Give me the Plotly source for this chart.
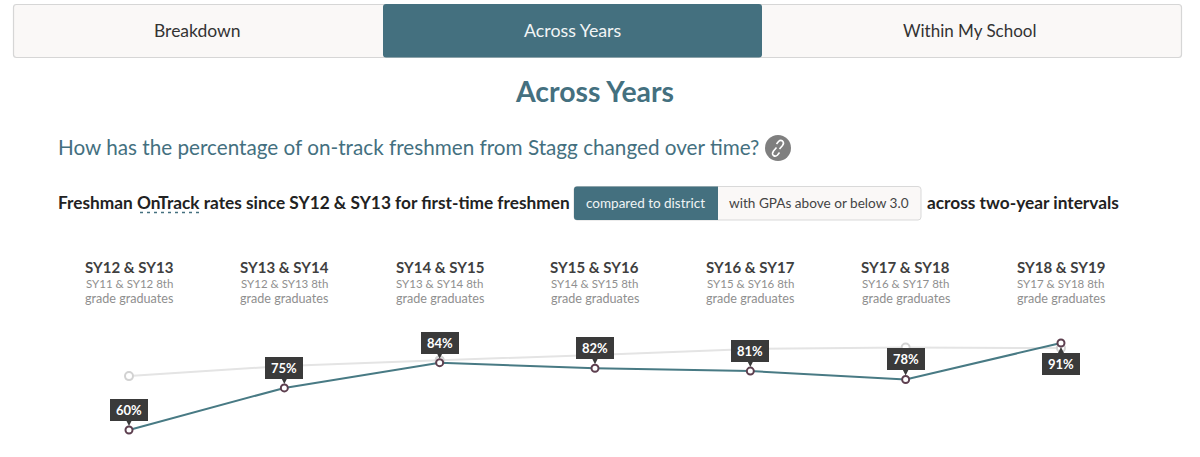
import plotly.graph_objects as go

# ---- data ----
periods = ["SY12 & SY13", "SY13 & SY14", "SY14 & SY15", "SY15 & SY16", "SY16 & SY17", "SY17 & SY18", "SY18 & SY19"]
cohorts = ["SY11 & SY12 8th", "SY12 & SY13 8th", "SY13 & SY14 8th", "SY14 & SY15 8th", "SY15 & SY16 8th", "SY16 & SY17 8th", "SY17 & SY18 8th"]
school = [60, 75, 84, 82, 81, 78, 91]
district = [79.2, 82.8, 84.9, 86.7, 88.9, 89.4, 89.2]
tabs = ["Breakdown", "Across Years", "Within My School"]

W, H = 1200, 457
TEAL = "#44707f"
DARK = "#3a3a3a"
FONT = "Lato, 'Open Sans', sans-serif"
ix = list(range(len(periods)))

def px(x): return x / W
def py(y): return 1 - y / H

def rrect(x0, y0, x1, y1, r=3, rl=True, rr=True):
    a, b = px(x0), px(x1)
    t, u = py(y0), py(y1)
    rx, ry = r / W, r / H
    rxl = rx if rl else 0; ryl = ry if rl else 0
    rxr = rx if rr else 0; ryr = ry if rr else 0
    return (f"M{a+rxl},{t} L{b-rxr},{t} Q{b},{t} {b},{t-ryr} L{b},{u+ryr} Q{b},{u} {b-rxr},{u} "
            f"L{a+rxl},{u} Q{a},{u} {a},{u+ryl} L{a},{t-ryl} Q{a},{t} {a+rxl},{t} Z")

def box(x0, y0, x1, y1, fill, line="rgba(0,0,0,0)", lw=1, **k):
    return dict(type="path", xref="paper", yref="paper", path=rrect(x0, y0, x1, y1, **k),
                fillcolor=fill, line=dict(color=line, width=lw), layer="below")

def text(x, y, s, size, color, anchor="center"):
    return dict(xref="paper", yref="paper", x=px(x), y=py(y), text=s, showarrow=False,
                xanchor=anchor, yanchor="middle", font=dict(family=FONT, size=size, color=color))

fig = go.Figure()
fig.add_trace(go.Scatter(x=ix, y=district, mode="lines+markers", name="District", showlegend=False,
                         line=dict(color="#e4e4e4", width=2),
                         marker=dict(size=8, color="white", line=dict(color="#d2d2d2", width=2))))
fig.add_trace(go.Scatter(x=ix, y=school, mode="lines+markers", name="Stagg", showlegend=False,
                         line=dict(color="#487a84", width=2),
                         marker=dict(size=7, color="white", line=dict(color="#5d3f4f", width=2))))

shapes = [
    box(13.5, 4.5, 1181.5, 57.5, "#faf8f7", "#d6d6d6", 1.2),
    box(383, 4, 762, 57.5, "#44707f"),
    box(574, 186.5, 921, 220, "#faf8f7", "#d9d9d9", 1),
    box(574, 186.5, 718, 220, TEAL, rr=False),
    dict(type="line", xref="paper", yref="paper", x0=px(140), x1=px(203), y0=py(212.5), y1=py(212.5),
         line=dict(color=TEAL, width=1.5, dash="3px,4px")),
    dict(type="circle", xref="paper", yref="paper", x0=px(765), x1=px(791), y0=py(135), y1=py(161),
         fillcolor="#7f7f7f", line=dict(width=0), layer="below"),
    dict(type="path", xref="paper", yref="paper", line=dict(color="white", width=1.6),
         path=(f"M{px(776.5)},{py(147.5)} L{px(773.5)},{py(151)} Q{px(771.5)},{py(154)} {px(773.5)},{py(155.5)} "
               f"Q{px(775.5)},{py(157)} {px(777.5)},{py(155)} L{px(779.5)},{py(152.5)}")),
    dict(type="path", xref="paper", yref="paper", line=dict(color="white", width=1.6),
         path=(f"M{px(779.5)},{py(149)} L{px(782.5)},{py(145.5)} Q{px(784.5)},{py(143)} {px(782.5)},{py(141)} "
               f"Q{px(780.5)},{py(139.5)} {px(778.5)},{py(141.5)} L{px(776.5)},{py(144)}")),
]

ann = [
    text(197.5, 30.5, tabs[0], 17.5, "#333333"),
    text(572, 30.5, tabs[1], 17.8, "#f2f5f6"),
    text(969, 30.5, tabs[2], 17, "#333333"),
    text(594.5, 91.5, "<b>Across Years</b>", 28.4, TEAL),
    text(55.5, 146.5, "How has the percentage of on-track freshmen from Stagg changed over time?", 20.7, TEAL, "left"),
    text(56, 202.5, "<b>Freshman OnTrack rates since SY12 &amp; SY13 for first-time freshmen</b>", 17.25, "#222222", "left"),
    text(645.5, 203, "compared to district", 13.5, "#f0f4f5"),
    text(819, 203, "with GPAs above or below 3.0", 13.6, "#444444"),
    text(925, 202.5, "<b>across two-year intervals</b>", 17.3, "#222222", "left"),
]

for i in ix:
    ann.append(dict(xref="x", yref="paper", x=i, y=py(267), text=f"<b>{periods[i]}</b>", showarrow=False,
                    yanchor="middle", font=dict(family=FONT, size=15, color="#3f3f3f")))
    ann.append(dict(xref="x", yref="paper", x=i, y=py(283), text=cohorts[i], showarrow=False,
                    yanchor="middle", font=dict(family=FONT, size=11.5, color="#8f8f8f")))
    ann.append(dict(xref="x", yref="paper", x=i, y=py(298.5), text="grade graduates", showarrow=False,
                    yanchor="middle", font=dict(family=FONT, size=12.6, color="#8f8f8f")))
    below = i == 6
    # tail of the tooltip: a short arrow pointing at the data point
    ann.append(dict(xref="x", yref="y", x=i, y=school[i], text=" ",
                    showarrow=True, ax=0, ay=12 if below else -12, axref="pixel", ayref="pixel",
                    arrowhead=3, arrowwidth=2.5, arrowsize=1.5, arrowcolor=DARK, standoff=4,
                    font=dict(size=1, color=DARK)))
    # the tooltip body, drawn after the tail so the label stays clean
    ann.append(dict(xref="x", yref="y", x=i, y=school[i], text=f"<b>{school[i]}%</b>",
                    showarrow=False, xanchor="center", yanchor="middle", yshift=-21 if below else 20,
                    bgcolor=DARK, bordercolor=DARK, borderwidth=1, borderpad=0,
                    width=36, height=20, align="center", valign="middle",
                    font=dict(family=FONT, size=13, color="white")))

step = 155.33
fig.update_layout(
    width=W, height=H, margin=dict(l=0, r=0, t=0, b=0), autosize=False,
    paper_bgcolor="white", plot_bgcolor="rgba(0,0,0,0)",
    shapes=shapes, annotations=ann, showlegend=False,
    xaxis=dict(visible=False, range=[-129 / step, (W - 129) / step]),
    yaxis=dict(visible=False, range=[60 - 27 / 2.806, 60 + 430 / 2.806]),
)
fig.write_html("out.html", config=dict(displayModeBar=False),
               post_script="document.body.style.margin='0';document.body.style.overflow='hidden';")
